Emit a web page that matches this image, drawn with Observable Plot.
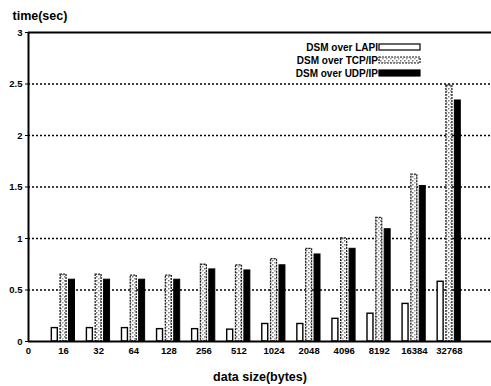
<!DOCTYPE html>
<html>
<head>
<meta charset="utf-8">
<script src="https://cdn.jsdelivr.net/npm/d3@7"></script>
<script src="https://cdn.jsdelivr.net/npm/@observablehq/plot@0.6"></script>
<style>
  html, body { margin: 0; padding: 0; background: #fff; }
  svg { font-family: "Liberation Sans", Arial, sans-serif; }
</style>
</head>
<body>
<div id="chart"></div>
<script>
const sizes = ["16","32","64","128","256","512","1024","2048","4096","8192","16384","32768"];
const series = ["DSM over LAPI", "DSM over TCP/IP", "DSM over UDP/IP"];
const lapi = [0.13, 0.13, 0.13, 0.12, 0.12, 0.115, 0.17, 0.17, 0.22, 0.27, 0.365, 0.58];
const tcp  = [0.65, 0.65, 0.64, 0.64, 0.745, 0.74, 0.80, 0.90, 1.00, 1.20, 1.62, 2.485];
const udp  = [0.60, 0.60, 0.60, 0.60, 0.70, 0.69, 0.74, 0.845, 0.90, 1.09, 1.51, 2.34];
const yTicks = [0, 0.5, 1, 1.5, 2, 2.5, 3];
const yTickLabels = ["0", "0.5", "1", "1.5", "2", "2.5", "3"];
const xTickLabels = ["0"].concat(sizes);

const offsets = [-0.25, 0, 0.24];
const barW = 0.17;
const rows = [];
[lapi, tcp, udp].forEach((vals, j) => {
  vals.forEach((v, i) => {
    const c = i + 1 + offsets[j];
    rows.push({series: series[j], x1: c - barW / 2, x2: c + barW / 2, y: v});
  });
});
const fills = {"DSM over LAPI": "white", "DSM over TCP/IP": "url(#speckle)", "DSM over UDP/IP": "black"};
const strokes = {"DSM over LAPI": "black", "DSM over TCP/IP": "#222", "DSM over UDP/IP": "black"};

const chart = Plot.plot({
  width: 491,
  height: 386,
  marginTop: 32,
  marginBottom: 45,
  marginLeft: 28,
  marginRight: 0,
  style: {fontFamily: "'Liberation Sans', Arial, sans-serif", fontWeight: "bold", fontSize: "10px", background: "white"},
  x: {domain: [0, 13.2]},
  y: {domain: [0, 3]},
  marks: [
    Plot.ruleY([0.5, 1, 1.5, 2, 2.5], {stroke: "black", strokeWidth: 1.4, strokeDasharray: "2,2"}),
    Plot.ruleY([3], {stroke: "black", strokeWidth: 1.8}),
    Plot.rectY(rows.filter(d => d.series === series[0]), {x1: "x1", x2: "x2", y1: 0, y2: "y", fill: fills[series[0]], stroke: strokes[series[0]], strokeWidth: 1.4}),
    Plot.rectY(rows.filter(d => d.series === series[1]), {x1: "x1", x2: "x2", y1: 0, y2: "y", fill: fills[series[1]], stroke: strokes[series[1]], strokeWidth: 1.3, strokeDasharray: "2,1"}),
    Plot.rectY(rows.filter(d => d.series === series[2]), {x1: "x1", x2: "x2", y1: 0, y2: "y", fill: fills[series[2]], stroke: strokes[series[2]], strokeWidth: 1}),
    Plot.ruleY([0], {stroke: "black", strokeWidth: 2}),
    Plot.ruleX([0], {stroke: "black", strokeWidth: 2}),
    Plot.axisY({ticks: yTicks, tickFormat: (d, i) => yTickLabels[i], tickSize: 3, tickPadding: 3, label: null, fontSize: 9.5}),
    Plot.axisX({ticks: d3.range(0, 13), tickFormat: (d, i) => xTickLabels[i], tickSize: 0, tickPadding: 6, label: null, fontSize: 9.5}),
    Plot.text(["time(sec)"], {frameAnchor: "top-left", dx: -16, dy: -21, textAnchor: "start", fontSize: 12.5, fontWeight: "bold"}),
    Plot.text(["data size(bytes)"], {frameAnchor: "bottom", dy: 39, fontSize: 12.5, fontWeight: "bold"})
  ]
});

const svg = d3.select(chart);
svg.append("defs").html(`
  <pattern id="speckle" width="4" height="4" patternUnits="userSpaceOnUse">
    <rect width="4" height="4" fill="white"/>
    <rect x="0" y="0" width="1.5" height="1.5" fill="#777"/>
    <rect x="2" y="2" width="1.5" height="1.5" fill="#999"/>
  </pattern>`);

const legend = svg.append("g").attr("font-weight", "bold").attr("font-size", 10)
  .attr("font-family", "'Liberation Sans', Arial, sans-serif");
series.forEach((s, i) => {
  const yy = 47 + i * 13;
  legend.append("text").attr("x", 378).attr("y", yy).attr("dy", "0.35em").attr("text-anchor", "end").text(s);
  legend.append("rect").attr("x", 379).attr("y", yy - 3).attr("width", 41).attr("height", 6)
    .attr("fill", fills[s]).attr("stroke", strokes[s]).attr("stroke-width", 1.2)
    .attr("stroke-dasharray", i === 1 ? "2,1" : null);
});

document.getElementById("chart").appendChild(chart);
</script>
</body>
</html>
